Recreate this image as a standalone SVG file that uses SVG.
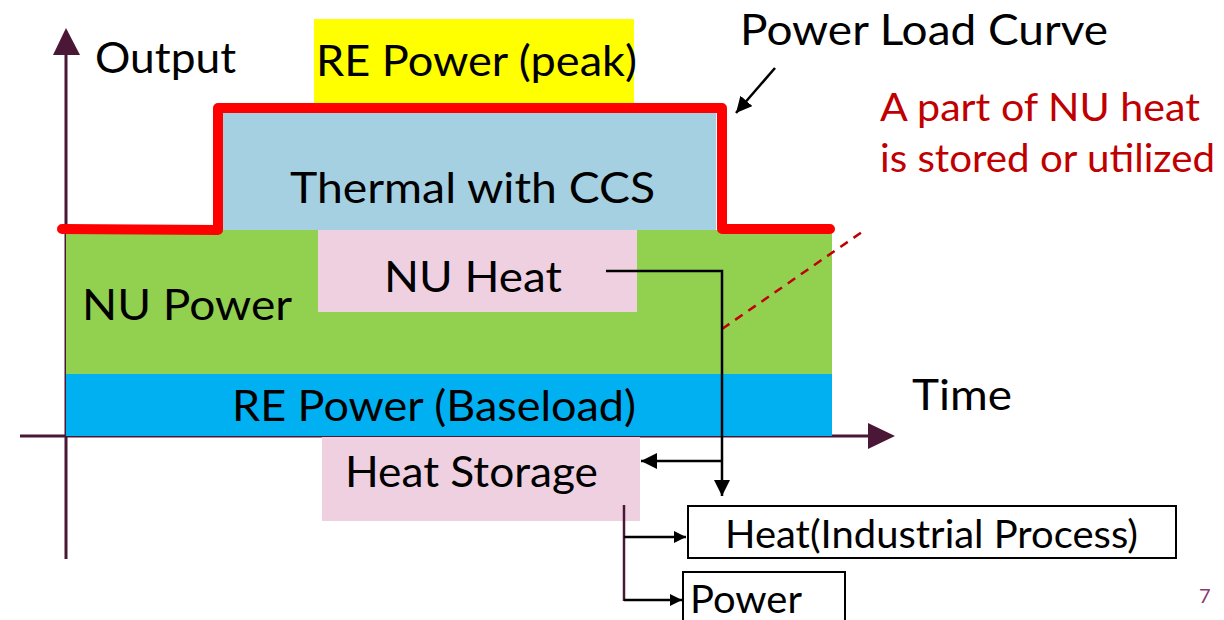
<svg xmlns="http://www.w3.org/2000/svg" width="1224" height="620" viewBox="0 0 1224 620">
<defs>
<style>
text{font-family:Lato,"Open Sans","Liberation Sans",sans-serif;fill:#000;}
.t36{font-size:42px;}
.t34{font-size:39px;}
.red{fill:#c00000;}
.axis{stroke:#4a1836;stroke-width:3;fill:none;}
.conn{stroke:#000;stroke-width:2.5;fill:none;}
.box{fill:#fff;stroke:#000;stroke-width:2;}
</style>
<marker id="ah" viewBox="0 0 10 10" refX="10" refY="5" markerWidth="12" markerHeight="12" markerUnits="userSpaceOnUse" orient="auto"><path d="M0,0L10,5L0,10Z" fill="#000"/></marker>
<marker id="ahs" viewBox="0 0 10 10" refX="10" refY="5" markerWidth="16" markerHeight="16" markerUnits="userSpaceOnUse" orient="auto"><path d="M0,0L10,5L0,10Z" fill="#000"/></marker>
</defs>
<rect width="1224" height="620" fill="#fff"/>

<g id="axes">
<line class="axis" x1="66" y1="50" x2="66" y2="559"/>
<path d="M66,28L80,55L53,55Z" fill="#4a1836"/>
<line class="axis" x1="20" y1="436" x2="870" y2="436"/>
<path d="M895,436L868,423L868,449Z" fill="#4a1836"/>
</g>

<g id="re-peak">
<rect x="314" y="19" width="320" height="133" fill="#ffff00"/>
<text class="t36" x="316" y="76" textLength="321" lengthAdjust="spacingAndGlyphs">RE Power (peak)</text>
</g>
<g id="thermal">
<rect x="218" y="106" width="498" height="124" fill="#a5d0e2"/>
<text class="t36" x="290" y="203" textLength="365" lengthAdjust="spacingAndGlyphs">Thermal with CCS</text>
</g>
<g id="nu-power">
<rect x="66" y="230" width="766" height="144" fill="#92d050"/>
<text class="t36" x="82" y="320" textLength="210" lengthAdjust="spacingAndGlyphs">NU Power</text>
</g>
<g id="nu-heat">
<rect x="318" y="230" width="319" height="82" fill="#efd0e1"/>
<text class="t36" x="384" y="292" textLength="178" lengthAdjust="spacingAndGlyphs">NU Heat</text>
</g>
<g id="re-baseload">
<rect x="66" y="374" width="766" height="62" fill="#00b0f0"/>
<text class="t36" x="232" y="421" textLength="404" lengthAdjust="spacingAndGlyphs">RE Power (Baseload)</text>
</g>
<g id="heat-storage">
<rect x="322" y="437" width="318" height="84" fill="#efd0e1"/>
<text class="t36" x="345" y="487" textLength="253" lengthAdjust="spacingAndGlyphs">Heat Storage</text>
</g>

<g id="load-curve">
<path d="M62,229L218,230L218,108L722,108L722,229L830,229" fill="none" stroke="#ff0000" stroke-width="10" stroke-linejoin="round" stroke-linecap="round"/>
</g>

<g id="labels">
<text class="t36" x="95" y="73" textLength="141" lengthAdjust="spacingAndGlyphs">Output</text>
<text class="t36" x="740" y="45" textLength="368" lengthAdjust="spacingAndGlyphs">Power Load Curve</text>
<text class="t36" x="912" y="410" textLength="100" lengthAdjust="spacingAndGlyphs">Time</text>
<text class="t34 red" x="880" y="121" textLength="320" lengthAdjust="spacingAndGlyphs">A part of NU heat</text>
<text class="t34 red" x="880" y="172" textLength="335" lengthAdjust="spacingAndGlyphs">is stored or utilized</text>
<text x="1199" y="603" style="font-size:20px;fill:#8c3b6e">7</text>
</g>

<g id="heat-industrial">
<rect class="box" x="688" y="506" width="488" height="52"/>
<text x="725" y="548" style="font-size:38px" textLength="413" lengthAdjust="spacingAndGlyphs">Heat(Industrial Process)</text>
</g>
<g id="power">
<rect class="box" x="683" y="572" width="162" height="52"/>
<text x="690" y="613" style="font-size:38px" textLength="112" lengthAdjust="spacingAndGlyphs">Power</text>
</g>

<g id="connectors">
<line class="conn" x1="775" y1="68" x2="736" y2="113" marker-end="url(#ahs)"/>
<line x1="722" y1="329" x2="862" y2="232" stroke="#c00000" stroke-width="2.5" stroke-dasharray="9,7"/>
<polyline class="conn" points="606,271 722,271 722,496" marker-end="url(#ahs)"/>
<line class="conn" x1="722" y1="461" x2="641" y2="461" marker-end="url(#ahs)"/>
<line x1="624" y1="505" x2="624" y2="601" stroke="#4a1836" stroke-width="2.5"/>
<line class="conn" x1="624" y1="537" x2="686" y2="537" marker-end="url(#ah)"/>
<line class="conn" x1="624" y1="600" x2="682" y2="600" marker-end="url(#ah)"/>
</g>
</svg>
